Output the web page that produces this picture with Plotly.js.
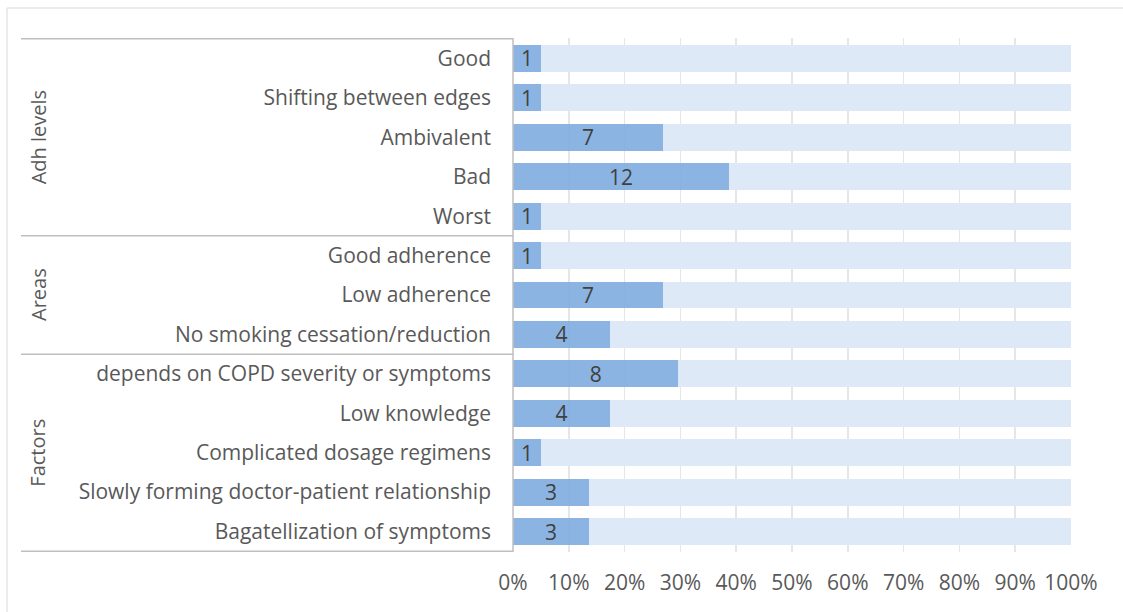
<!DOCTYPE html>
<html>
<head>
<meta charset="utf-8">
<script src="https://cdn.plot.ly/plotly-3.0.1.min.js"></script>
<style>
  html, body { margin: 0; padding: 0; background: #ffffff; }
  #chart { width: 1123px; height: 612px; }
</style>
</head>
<body>
<div id="chart"></div>
<script>
// Categories, top to bottom
const categories = [
  "Good",
  "Shifting between edges",
  "Ambivalent",
  "Bad",
  "Worst",
  "Good adherence",
  "Low adherence",
  "No smoking cessation/reduction",
  "depends on COPD severity or symptoms",
  "Low knowledge",
  "Complicated dosage regimens",
  "Slowly forming doctor-patient relationship",
  "Bagatellization of symptoms"
];

// Group names with the index range of their categories
const groupNames = ["Adh levels", "Areas", "Factors"];
const groupStart = [0, 5, 8];
const groupEnd = [4, 7, 12];

// Mentions per category and the remaining part of each 100% bar
const counts = [1, 1, 7, 12, 1, 1, 7, 4, 8, 4, 1, 3, 3];
const remainder = [19, 19, 19, 19, 19, 19, 19, 19, 19, 19, 19, 19, 19];

const xTickVals = [0, 10, 20, 30, 40, 50, 60, 70, 80, 90, 100];

const FONT = "'Open Sans', sans-serif";
const FS = 21;
const TEXT = "#595959";
const LINE = "#bfbfbf";

const W = 1123, H = 612;
const L = 513, R = 52, T = 38, B = 60;
const plotW = W - L - R, plotH = H - T - B;
const px = v => (v - L) / plotW;        // pixel x -> paper x
const py = v => (H - B - v) / plotH;    // pixel y -> paper y

const traces = [
  {
    type: "bar", orientation: "h",
    y: categories, x: counts,
    text: counts.map(String),
    textposition: "inside", insidetextanchor: "middle", textangle: 0,
    constraintext: "none",
    textfont: { family: FONT, size: FS, color: "#404040" },
    // slightly see-through so the gridlines show faintly
    marker: { color: "rgba(128,172,223,0.9)" },
    hoverinfo: "skip", showlegend: false
  },
  {
    type: "bar", orientation: "h",
    y: categories, x: remainder,
    marker: { color: "rgb(221,233,246)" },
    hoverinfo: "skip", showlegend: false
  }
];

const shapes = [];
// outer frame
shapes.push({ type: "rect", xref: "paper", yref: "paper",
  x0: px(7), x1: px(1130), y0: py(8), y1: py(640),
  line: { color: "#d9d9d9", width: 1 } });
// category axis line
shapes.push({ type: "line", xref: "paper", yref: "paper",
  x0: 0, x1: 0, y0: 0, y1: 1, line: { color: LINE, width: 1.5 } });
// group separators on the category axis
const seps = [-0.5];
groupEnd.forEach(e => seps.push(e + 0.5));
seps.forEach(s => shapes.push({ type: "line", xref: "paper", yref: "y",
  x0: px(21), x1: 0, y0: s, y1: s, line: { color: LINE, width: 1.5 } }));

const annotations = groupNames.map((g, i) => ({
  xref: "paper", yref: "y",
  x: px(38), y: (groupStart[i] + groupEnd[i]) / 2,
  text: g, textangle: -90, showarrow: false,
  xanchor: "center", yanchor: "middle",
  font: { family: FONT, size: 20, color: TEXT }
}));

const layout = {
  width: W, height: H,
  margin: { l: L, r: R, t: T, b: B, pad: 0 },
  paper_bgcolor: "#ffffff", plot_bgcolor: "#ffffff",
  barmode: "stack", barnorm: "percent", bargap: 0.32,
  xaxis: {
    range: [0, 100], tickvals: xTickVals, ticktext: xTickVals.map(v => v + "%"),
    showgrid: true, gridcolor: "#e6e6e6", gridwidth: 1.5,
    zeroline: false, showline: false, ticks: "",
    tickfont: { family: FONT, size: FS, color: TEXT },
    ticklabelstandoff: 16, fixedrange: true
  },
  yaxis: {
    type: "category", autorange: "reversed",
    showgrid: false, zeroline: false, showline: false, ticks: "",
    tickfont: { family: FONT, size: FS, color: TEXT },
    ticklabelstandoff: 21, fixedrange: true
  },
  shapes: shapes,
  annotations: annotations,
  showlegend: false
};

Plotly.newPlot("chart", traces, layout, { displayModeBar: false, staticPlot: true });
</script>
</body>
</html>
